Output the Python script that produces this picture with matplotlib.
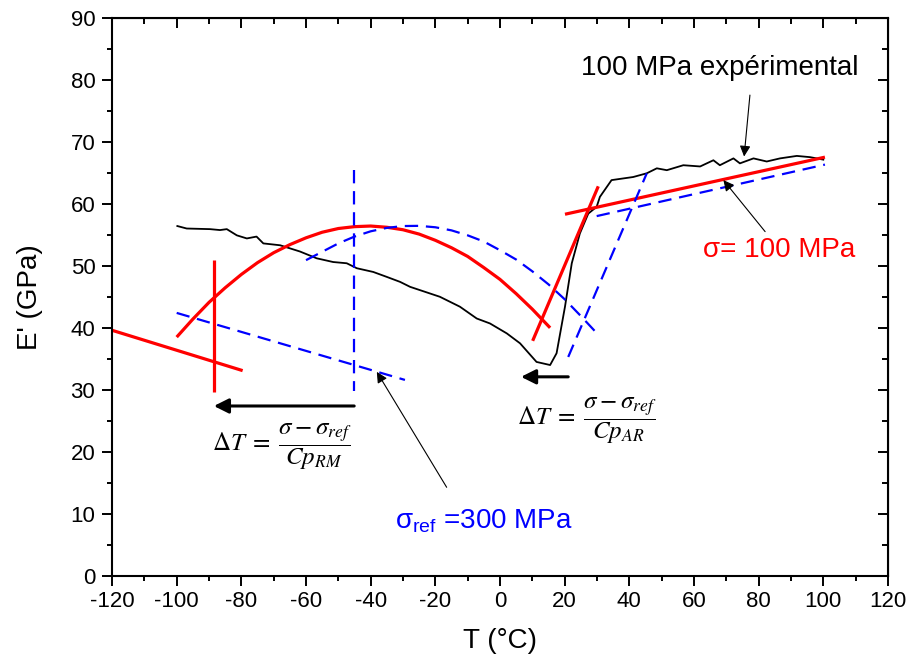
import matplotlib.pyplot as plt
from matplotlib.ticker import MultipleLocator

plt.rcParams['font.family'] = ['Liberation Sans', 'DejaVu Sans']
plt.rcParams['axes.unicode_minus'] = False

# experimental curve at 100 MPa
exp_T = [-99.8, -96.9, -89.7, -86.6, -84.5, -81.4, -78.3, -75.3, -73.2, -68.0,
         -61.9, -56.7, -51.6, -47.4, -44.3, -39.2, -35.0, -30.9, -27.8, -18.6,
         -12.4, -7.2, -3.1, 2.1, 6.2, 11.3, 15.5, 17.5, 20.1, 22.2,
         24.7, 27.3, 29.9, 30.9, 34.5, 41.2, 45.4, 48.5, 51.6, 56.7,
         61.9, 66.0, 68.0, 72.2, 74.2, 78.4, 82.5, 86.6, 91.8, 95.9, 100.0]
exp_E = [56.4, 56.0, 55.9, 55.75, 55.9, 54.9, 54.4, 54.7, 53.6, 53.3,
         52.3, 51.2, 50.6, 50.4, 49.6, 49.0, 48.2, 47.4, 46.6, 45.0,
         43.4, 41.5, 40.7, 39.1, 37.5, 34.5, 34.0, 35.9, 43.4, 50.4,
         55.2, 58.4, 59.5, 61.1, 63.8, 64.3, 64.9, 65.7, 65.4, 66.2,
         66.0, 67.0, 66.2, 67.3, 66.5, 67.3, 66.8, 67.3, 67.7, 67.5, 67.1]

# model at sigma = 100 MPa (red)
red_T = [-100, -95, -90, -85, -80, -75, -70, -65, -60, -55, -50, -45, -40,
         -35, -30, -25, -20, -15, -10, -5, 0, 5, 10, 15.5]
red_E = [38.5, 41.4, 44.1, 46.45, 48.6, 50.5, 52.1, 53.4, 54.5, 55.4, 56.0, 56.3, 56.4,
         56.2, 55.8, 55.1, 54.1, 52.9, 51.5, 49.7, 47.8, 45.5, 43.0, 40.0]
red_low_T = [-120, -79.6]
red_low_E = [39.6, 33.1]
red_vert_T = [-88.4, -88.4]
red_vert_E = [50.9, 29.7]
red_steep_T = [10.1, 30.4]
red_steep_E = [37.9, 62.8]
red_high_T = [20.1, 100.5]
red_high_E = [58.3, 67.5]

# model at sigma_ref = 300 MPa (blue)
blue_T = [-60, -55, -50, -45, -40, -35, -30, -25, -20, -15, -10, -5,
          0, 5, 10, 15, 20, 25, 30]
blue_E = [50.9, 52.25, 53.6, 54.7, 55.55, 56.1, 56.4, 56.43, 56.2, 55.7, 54.9, 53.9,
          52.5, 51.0, 49.1, 47.0, 44.6, 41.9, 39.1]
blue_low_T = [-100, -29.4]
blue_low_E = [42.4, 31.6]
blue_vert_T = [-45.1, -45.1]
blue_vert_E = [65.4, 29.8]
blue_steep_T = [21.1, 45.4]
blue_steep_E = [35.3, 64.9]
blue_high_T = [29.9, 100.5]
blue_high_E = [58.0, 66.3]

fig = plt.figure(figsize=(9.1, 6.64), dpi=100)
ax = fig.add_axes([0.1231, 0.1325, 0.8527, 0.8411])

red = '#ff0000'
blue = '#0000ff'
dash = (6, 3.5)

ax.plot(exp_T, exp_E, color='black', lw=1.3)
for t, e in [(red_T, red_E), (red_low_T, red_low_E), (red_vert_T, red_vert_E),
             (red_steep_T, red_steep_E), (red_high_T, red_high_E)]:
    ax.plot(t, e, color=red, lw=2.3, solid_capstyle='butt')
for t, e in [(blue_T, blue_E), (blue_low_T, blue_low_E), (blue_vert_T, blue_vert_E),
             (blue_steep_T, blue_steep_E), (blue_high_T, blue_high_E)]:
    ax.plot(t, e, color=blue, lw=1.6, dashes=dash)

# shift arrows
thick = dict(arrowstyle='-|>', color='black', lw=2.2, mutation_scale=22, shrinkA=0, shrinkB=0)
ax.annotate('', xy=(-88.5, 27.4), xytext=(-45.1, 27.4), arrowprops=thick)
ax.annotate('', xy=(6.5, 32.1), xytext=(21.1, 32.1), arrowprops=thick)

thin = dict(arrowstyle='-|>', color='black', lw=0.8, mutation_scale=16, shrinkA=0, shrinkB=0)
ax.annotate('', xy=(75.5, 67.6), xytext=(77.3, 77.5), arrowprops=thin)
ax.text(68, 81.8, '100 MPa expérimental', fontsize=20, ha='center', va='center')
ax.annotate('', xy=(69.1, 63.8), xytext=(82.0, 55.5), arrowprops=thin)
ax.text(86.3, 52.5, 'σ= 100 MPa', fontsize=20, color=red, ha='center', va='center')
ax.annotate('', xy=(-38.1, 32.9), xytext=(-16.5, 14.3), arrowprops=thin)
ax.text(-5, 8.9, r'σ$_\mathregular{ref}$ =300 MPa', fontsize=20, color=blue,
        ha='center', va='center')

ax.text(-67.4, 20.8, r'$\Delta T\;=\;\dfrac{\sigma - \sigma_{ref}}{Cp_{RM}}$',
        fontsize=18, math_fontfamily='stix', ha='center', va='center')
ax.text(26.9, 25.1, r'$\Delta T\;=\;\dfrac{\sigma - \sigma_{ref}}{Cp_{AR}}$',
        fontsize=18, math_fontfamily='stix', ha='center', va='center')

ax.set_xlim(-120, 120)
ax.set_ylim(0, 90)
ax.xaxis.set_major_locator(MultipleLocator(20))
ax.xaxis.set_minor_locator(MultipleLocator(10))
ax.yaxis.set_major_locator(MultipleLocator(10))
ax.yaxis.set_minor_locator(MultipleLocator(5))
ax.tick_params(which='major', direction='out', length=7, width=1.4, labelsize=16)
ax.tick_params(which='minor', direction='out', length=3.5, width=1.4)
ax.tick_params(axis='y', pad=5)
for s in ax.spines.values():
    s.set_linewidth(1.5)

top = ax.secondary_xaxis('top')
top.xaxis.set_major_locator(MultipleLocator(20))
top.xaxis.set_minor_locator(MultipleLocator(10))
top.tick_params(which='major', direction='in', length=7.5, width=1.4, labeltop=False)
top.tick_params(which='minor', direction='in', length=4, width=1.4)
right = ax.secondary_yaxis('right')
right.yaxis.set_major_locator(MultipleLocator(10))
right.yaxis.set_minor_locator(MultipleLocator(5))
right.tick_params(which='major', direction='in', length=7.5, width=1.4, labelright=False)
right.tick_params(which='minor', direction='in', length=4, width=1.4)

ax.set_xlabel('T (°C)', fontsize=20, labelpad=12)
ax.set_ylabel("E' (GPa)", fontsize=20, labelpad=20)

fig.savefig('out.png', dpi=100)
